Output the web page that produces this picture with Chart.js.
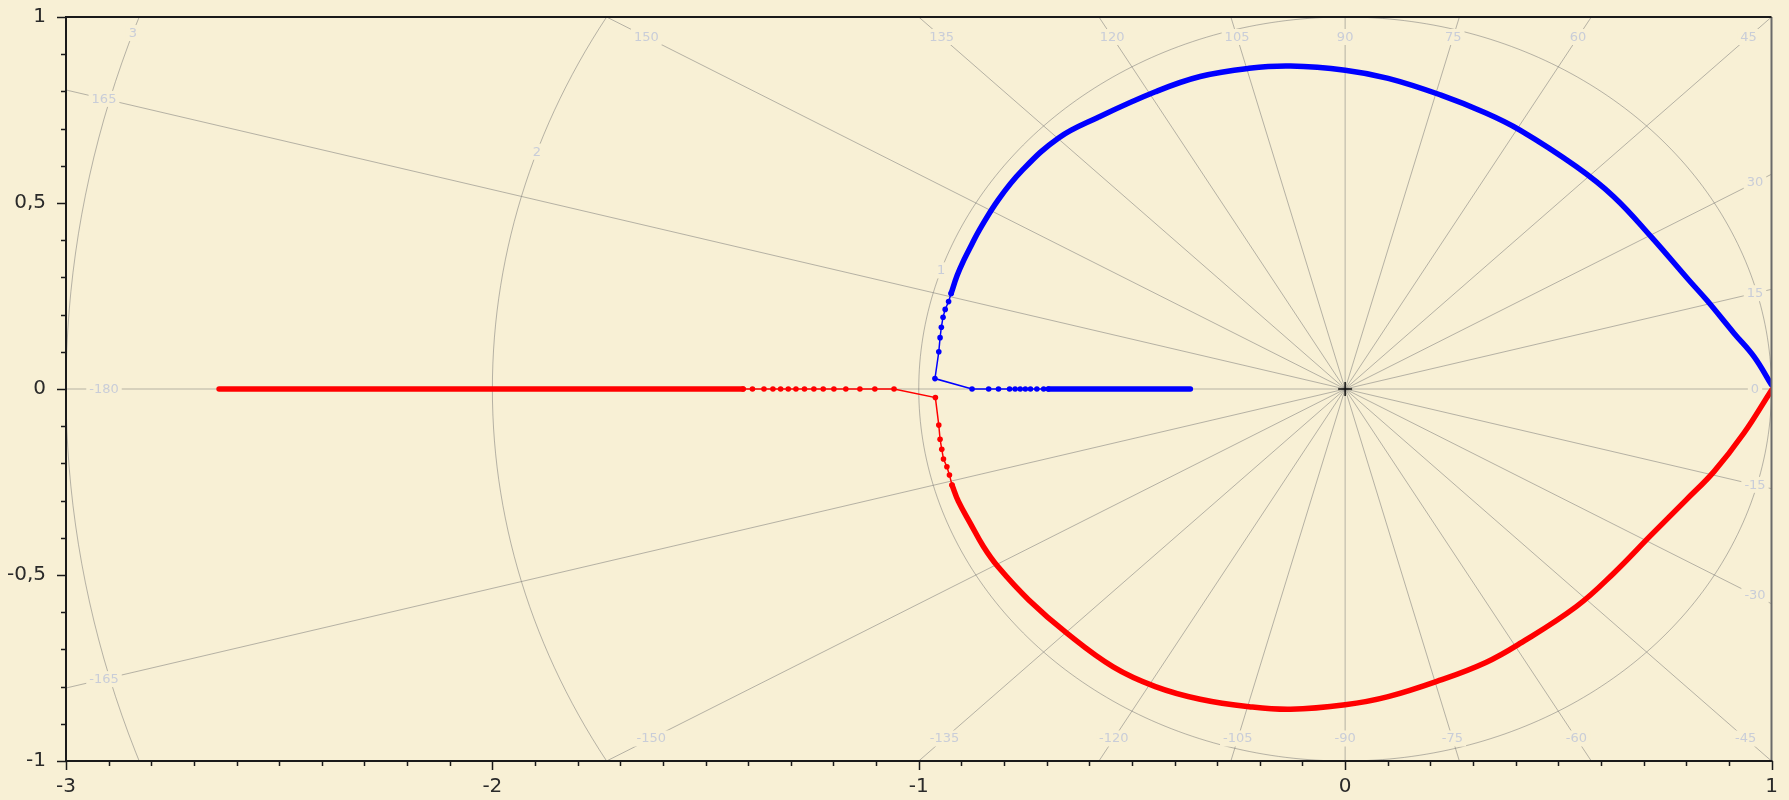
<!DOCTYPE html>
<html>
<head>
<meta charset="utf-8">
<script src="https://cdn.jsdelivr.net/npm/chart.js@4.4.1/dist/chart.umd.min.js"></script>
<style>
  html, body { margin: 0; padding: 0; background: #f8f0d5; }
  canvas { display: block; }
</style>
</head>
<body>
<canvas id="nyquist" width="1789" height="800"></canvas>
<script>
// Nyquist diagram: positive branch (blue), negative branch (red), polar grid overlay.

// Axis ticks
const xTickValues = [-3, -2, -1, 0, 1];
const yTickValues = [-1, -0.5, 0, 0.5, 1];

// Polar grid: magnitude circles and phase rays (degrees)
const gridRadii = [1, 2, 3];
const phaseAngles = [-165, -150, -135, -120, -105, -90, -75, -60, -45, -30, -15, 0,
                     15, 30, 45, 60, 75, 90, 105, 120, 135, 150, 165, 180];
const phaseLabels = ['-165', '-150', '-135', '-120', '-105', '-90', '-75', '-60', '-45', '-30', '-15', '0',
                     '15', '30', '45', '60', '75', '90', '105', '120', '135', '150', '165', '-180'];
const radiusLabelAngle = 161.4;

// Blue branch: dense run on the real axis, sparse samples, then the upper loop
const blueAxisRe = [-0.363, -0.696];
const blueAxisIm = [0, 0];
const blueTailRe = [-0.696, -0.707, -0.723, -0.738, -0.750, -0.762, -0.774, -0.787, -0.813, -0.836, -0.875,
                    -0.962, -0.953, -0.950, -0.947, -0.943, -0.938, -0.930, -0.924];
const blueTailIm = [0, 0, 0, 0, 0, 0, 0, 0, 0, 0, 0,
                    0.028, 0.100, 0.138, 0.166, 0.193, 0.214, 0.235, 0.257];
const blueLoopRe = [-0.924, -0.910, -0.894, -0.876, -0.858, -0.814, -0.758, -0.672, -0.580, -0.445,
                    -0.340, -0.225, -0.128, 0.000, 0.101, 0.225, 0.330, 0.410, 0.542, 0.630,
                    0.718, 0.806, 0.848, 0.912, 0.959, 1.000];
const blueLoopIm = [0.257, 0.305, 0.347, 0.388, 0.427, 0.508, 0.587, 0.675, 0.730, 0.799,
                    0.840, 0.862, 0.868, 0.857, 0.835, 0.790, 0.742, 0.696, 0.598, 0.517,
                    0.409, 0.293, 0.239, 0.150, 0.087, 0.011];

// Red branch: dense run on the real axis, sparse samples, then the lower loop
const redAxisRe = [-2.641, -1.412];
const redAxisIm = [0, 0];
const redTailRe = [-1.412, -1.390, -1.363, -1.342, -1.324, -1.306, -1.288, -1.268, -1.246, -1.224, -1.199,
                   -1.171, -1.138, -1.103, -1.058,
                   -0.961, -0.953, -0.950, -0.946, -0.942, -0.934, -0.928, -0.922];
const redTailIm = [0, 0, 0, 0, 0, 0, 0, 0, 0, 0, 0, 0, 0, 0, 0,
                   -0.023, -0.097, -0.135, -0.162, -0.188, -0.209, -0.231, -0.258];
const redLoopRe = [-0.922, -0.907, -0.879, -0.848, -0.814, -0.742, -0.652, -0.544, -0.445, -0.340,
                   -0.225, -0.128, 0.000, 0.101, 0.225, 0.330, 0.410, 0.542, 0.630, 0.718,
                   0.800, 0.865, 0.935, 1.000];
const redLoopIm = [-0.258, -0.302, -0.361, -0.424, -0.478, -0.567, -0.657, -0.747, -0.800, -0.834,
                   -0.854, -0.861, -0.849, -0.827, -0.782, -0.735, -0.684, -0.585, -0.495, -0.392,
                   -0.298, -0.222, -0.119, -0.003];

const BG = '#f8f0d5';
const GRID = 'rgba(115,115,115,0.5)';
const GRID_TEXT = '#c9cdd8';
const FONT = '"DejaVu Sans", Verdana, sans-serif';

const zip = (re, im) => re.map((v, i) => ({ x: v, y: im[i] }));

function denseRun(re, im, color, smooth) {
  return {
    data: zip(re, im), showLine: true, borderColor: color, backgroundColor: color,
    borderWidth: 5.5, borderCapStyle: 'round', borderJoinStyle: 'round',
    pointRadius: 0, tension: smooth ? 0.4 : 0
  };
}
function sparseRun(re, im, color) {
  return {
    data: zip(re, im), showLine: true, borderColor: color, backgroundColor: color,
    borderWidth: 1.5, pointRadius: 2.8, pointBorderWidth: 0,
    pointBackgroundColor: color, tension: 0
  };
}

const polarGrid = {
  id: 'polarGrid',
  beforeDraw(chart) {
    const ctx = chart.ctx;
    ctx.save();
    ctx.fillStyle = BG;
    ctx.fillRect(0, 0, chart.width, chart.height);
    ctx.restore();
  },
  beforeDatasetsDraw(chart) {
    const { ctx, chartArea: a, scales: { x, y } } = chart;
    const ox = x.getPixelForValue(0), oy = y.getPixelForValue(0);
    const sx = x.getPixelForValue(1) - ox, sy = oy - y.getPixelForValue(1);
    ctx.save();
    ctx.beginPath();
    ctx.rect(a.left, a.top, a.right - a.left, a.bottom - a.top);
    ctx.clip();
    ctx.strokeStyle = GRID;
    ctx.lineWidth = 1;
    // magnitude circles
    gridRadii.forEach(r => {
      ctx.beginPath();
      for (let d = 0; d <= 360; d += 1) {
        const t = d * Math.PI / 180;
        const px = x.getPixelForValue(r * Math.cos(t));
        const py = y.getPixelForValue(r * Math.sin(t));
        if (d === 0) ctx.moveTo(px, py); else ctx.lineTo(px, py);
      }
      ctx.stroke();
    });
    // phase rays
    phaseAngles.forEach(deg => {
      const t = deg * Math.PI / 180;
      ctx.beginPath();
      ctx.moveTo(ox, oy);
      ctx.lineTo(ox + Math.cos(t) * sx * 6, oy - Math.sin(t) * sy * 6);
      ctx.stroke();
    });
    // labels
    ctx.font = '13px ' + FONT;
    ctx.textAlign = 'center';
    ctx.textBaseline = 'middle';
    const drawTag = (txt, px, py) => {
      const w = ctx.measureText(txt).width + 6;
      ctx.fillStyle = BG;
      ctx.fillRect(px - w / 2, py - 8, w, 16);
      ctx.fillStyle = GRID_TEXT;
      ctx.fillText(txt, px, py + 0.5);
    };
    const L = a.left + 38, R = a.right - 16.5, T = a.top + 20, B = a.bottom - 22.5;
    phaseAngles.forEach((deg, i) => {
      const t = deg * Math.PI / 180;
      const dx = Math.cos(t) * sx, dy = -Math.sin(t) * sy;
      let k = Infinity;
      if (dx > 1e-9) k = Math.min(k, (R - ox) / dx);
      if (dx < -1e-9) k = Math.min(k, (L - ox) / dx);
      if (dy > 1e-9) k = Math.min(k, (B - oy) / dy);
      if (dy < -1e-9) k = Math.min(k, (T - oy) / dy);
      drawTag(phaseLabels[i], ox + dx * k, oy + dy * k);
    });
    const ra = radiusLabelAngle * Math.PI / 180;
    gridRadii.forEach(r => {
      drawTag(String(r), x.getPixelForValue(r * Math.cos(ra)), y.getPixelForValue(r * Math.sin(ra)));
    });
    ctx.restore();
  },
  afterDatasetsDraw(chart) {
    const { ctx, chartArea: a, scales: { x, y } } = chart;
    ctx.save();
    // origin cross
    const ox = x.getPixelForValue(0), oy = y.getPixelForValue(0);
    ctx.strokeStyle = '#111';
    ctx.lineWidth = 1.5;
    ctx.beginPath();
    ctx.moveTo(ox - 7, oy); ctx.lineTo(ox + 7, oy);
    ctx.moveTo(ox, oy - 7); ctx.lineTo(ox, oy + 7);
    ctx.stroke();
    // frame
    ctx.lineWidth = 2;
    ctx.strokeStyle = '#6a6a6a';
    ctx.beginPath(); ctx.moveTo(a.right, a.top); ctx.lineTo(a.right, a.bottom); ctx.stroke();
    ctx.strokeStyle = '#1a1a1a';
    ctx.beginPath();
    ctx.moveTo(a.right, a.top); ctx.lineTo(a.left, a.top);
    ctx.lineTo(a.left, a.bottom); ctx.lineTo(a.right + 1, a.bottom);
    ctx.stroke();
    // tick marks: majors on labelled values, minors every 0.1
    ctx.lineWidth = 1.5;
    for (let i = -30; i <= 10; i++) {
      const px = Math.round(x.getPixelForValue(i / 10)) + 0.5;
      const len = i % 10 === 0 ? 9 : 5;
      ctx.beginPath(); ctx.moveTo(px, a.bottom); ctx.lineTo(px, a.bottom + len); ctx.stroke();
    }
    for (let i = -10; i <= 10; i++) {
      const py = Math.round(y.getPixelForValue(i / 10)) + 0.5;
      const len = i % 5 === 0 ? 9 : 5;
      ctx.beginPath(); ctx.moveTo(a.left, py); ctx.lineTo(a.left - len, py); ctx.stroke();
    }
    ctx.restore();
  }
};

const tickFont = { family: FONT, size: 20 };

new Chart(document.getElementById('nyquist'), {
  type: 'scatter',
  data: {
    datasets: [
      denseRun(redAxisRe, redAxisIm, '#ff0000', false),
      sparseRun(redTailRe, redTailIm, '#ff0000'),
      denseRun(redLoopRe, redLoopIm, '#ff0000', true),
      denseRun(blueAxisRe, blueAxisIm, '#0000ff', false),
      sparseRun(blueTailRe, blueTailIm, '#0000ff'),
      denseRun(blueLoopRe, blueLoopIm, '#0000ff', true)
    ]
  },
  options: {
    responsive: false,
    animation: false,
    events: [],
    layout: { padding: { top: 17, right: 17.5, left: 0, bottom: 0 } },
    plugins: { legend: { display: false }, tooltip: { enabled: false } },
    scales: {
      x: {
        type: 'linear', min: -3, max: 1,
        afterBuildTicks: s => { s.ticks = xTickValues.map(v => ({ value: v })); },
        afterFit: s => { s.height = 39; s.paddingLeft = 0; s.paddingRight = 0; },
        grid: { display: false, drawTicks: false },
        border: { display: false },
        ticks: { font: tickFont, color: '#2a2a2a', padding: 14, maxRotation: 0,
                 callback: v => String(v).replace('.', ',') }
      },
      y: {
        type: 'linear', min: -1, max: 1,
        afterBuildTicks: s => { s.ticks = yTickValues.map(v => ({ value: v })); },
        afterFit: s => { s.width = 66; s.paddingTop = 0; s.paddingBottom = 0; },
        grid: { display: false, drawTicks: false },
        border: { display: false },
        ticks: { font: tickFont, color: '#2a2a2a', padding: 20,
                 callback: v => String(v).replace('.', ',') }
      }
    }
  },
  plugins: [polarGrid]
});
</script>
</body>
</html>
